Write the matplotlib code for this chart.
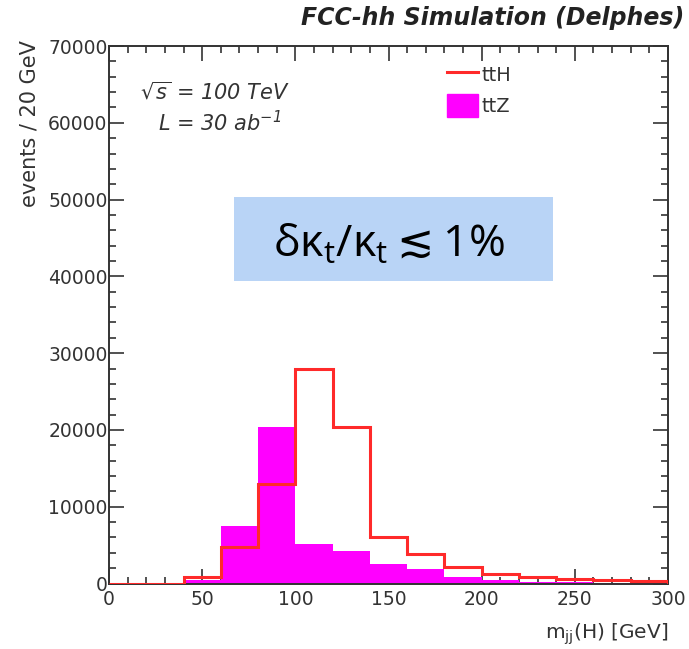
import matplotlib.pyplot as plt
from matplotlib.lines import Line2D
from matplotlib.patches import Patch, Rectangle
from matplotlib.ticker import MultipleLocator

plt.rcParams['font.family'] = ['DejaVu Sans']
plt.rcParams['mathtext.fontset'] = 'dejavusans'

# bin edges m_jj(H) in GeV, 20 GeV bins
edges = list(range(0, 320, 20))
# events per bin
tth = [0, 0, 800, 4800, 13000, 28000, 20400, 6000, 3800, 2100, 1300, 800, 550, 400, 300]
ttz = [0, 0, 450, 7500, 20400, 5200, 4200, 2600, 1850, 900, 450, 250, 150, 120, 100]

W, H = 689, 649
fig = plt.figure(figsize=(W / 100, H / 100), dpi=100)
ax = fig.add_axes([109 / W, 1 - 583.5 / H, 559 / W, 537.5 / H])

ax.stairs(ttz, edges, fill=True, color='#ff00ff', zorder=2)
ax.stairs(tth, edges, color='#ff2a2a', lw=2.2, zorder=3)

ax.set_xlim(0, 300)
ax.set_ylim(0, 70000)
ax.xaxis.set_major_locator(MultipleLocator(50))
ax.xaxis.set_minor_locator(MultipleLocator(10))
ax.yaxis.set_major_locator(MultipleLocator(10000))
ax.yaxis.set_minor_locator(MultipleLocator(2000))
ax.tick_params(which='both', direction='in', top=True, right=True,
               color='#333333', width=1.2, labelcolor='#333333', labelsize=13.5)
ax.tick_params(which='major', length=11)
ax.tick_params(which='minor', length=5)
ax.tick_params(axis='y', pad=1)
ax.tick_params(axis='x', pad=5)
for s in ax.spines.values():
    s.set_color('#333333')
    s.set_linewidth(1.4)

fig.text(684 / W, 1 - 18 / H, 'FCC-hh Simulation (Delphes)', ha='right', va='center',
         fontsize=17, fontweight='bold', fontstyle='italic', color='#222222')
fig.text(30 / W, 1 - 40 / H, 'events / 20 GeV', rotation=90, ha='center', va='top',
         fontsize=15, color='#333333')
fig.text(668 / W, 1 - 634 / H, r'm$_\mathregular{jj}$(H) [GeV]', ha='right', va='center',
         fontsize=14.5, color='#333333')

fig.text(140 / W, 1 - 92 / H, r'$\sqrt{s}$ = 100 TeV', ha='left', va='center',
         fontsize=15, fontstyle='italic', color='#333333')
fig.text(158 / W, 1 - 123 / H, r'L = 30 ab$^\mathregular{-1}$', ha='left', va='center',
         fontsize=15, fontstyle='italic', color='#333333')

handles = [Line2D([], [], color='#ff2a2a', lw=2.2), Patch(color='#ff00ff')]
fig.legend(handles, ['ttH', 'ttZ'], loc='upper left',
           bbox_to_anchor=(447 / W, 1 - 63 / H), borderaxespad=0, borderpad=0,
           frameon=False, fontsize=14, handlelength=1.6, handleheight=1.5,
           labelspacing=0.35, handletextpad=0.2, labelcolor='#333333')

fig.patches.append(Rectangle((234 / W, 1 - 281 / H), 319 / W, 84 / H,
                             transform=fig.transFigure, facecolor='#b9d4f6',
                             edgecolor='none', zorder=5))
fig.text(388.5 / W, 1 - 257 / H, r'δκ$_\mathregular{t}$/κ$_\mathregular{t}\lesssim$1%',
         ha='center', va='baseline', fontsize=32, color='black',
         family='Open Sans', zorder=6)

fig.savefig('out.png', dpi=100)
